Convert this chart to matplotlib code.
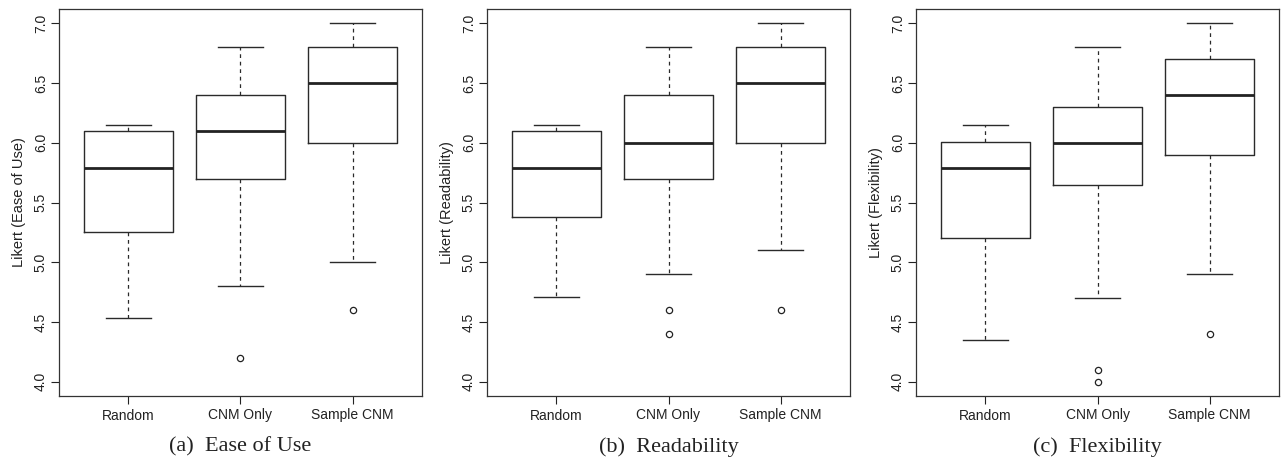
import matplotlib.pyplot as plt
import numpy as np

groups = ['Random', 'CNM Only', 'Sample CNM']
titles = ['(a)  Ease of Use', '(b)  Readability', '(c)  Flexibility']
ylabels = ['Likert (Ease of Use)', 'Likert (Readability)', 'Likert (Flexibility)']

# [whislo, q1, med, q3, whishi] per group
ease = [[4.53, 5.25, 5.79, 6.10, 6.15],
        [4.80, 5.70, 6.10, 6.40, 6.80],
        [5.00, 6.00, 6.50, 6.80, 7.00]]
ease_out = [[], [4.2], [4.6]]

read = [[4.71, 5.38, 5.79, 6.10, 6.15],
        [4.90, 5.70, 6.00, 6.40, 6.80],
        [5.10, 6.00, 6.50, 6.80, 7.00]]
read_out = [[], [4.6, 4.4], [4.6]]

flex = [[4.35, 5.20, 5.79, 6.01, 6.15],
        [4.70, 5.65, 6.00, 6.30, 6.80],
        [4.90, 5.90, 6.40, 6.70, 7.00]]
flex_out = [[], [4.1, 4.0], [4.4]]

yticks = [4.0, 4.5, 5.0, 5.5, 6.0, 6.5, 7.0]

panels = [(ease, ease_out), (read, read_out), (flex, flex_out)]
lefts = [59, 487, 916]

fig = plt.figure(figsize=(12.83, 4.59), dpi=100)
W, H = 1283, 459
plt.rcParams['font.family'] = ['Liberation Sans', 'DejaVu Sans']

for i, (vals, outs) in enumerate(panels):
    ax = fig.add_axes([lefts[i] / W, 1 - 396 / H, 363 / W, 387 / H])
    stats = []
    for g, v, o in zip(groups, vals, outs):
        stats.append(dict(label=g, whislo=v[0], q1=v[1], med=v[2], q3=v[3],
                          whishi=v[4], fliers=o))
    ax.bxp(stats, positions=[1, 2, 3], widths=0.8, showfliers=True,
           boxprops=dict(color='#2a2a2a', linewidth=1.0),
           medianprops=dict(color='#222222', linewidth=2.0, solid_capstyle='butt'),
           whiskerprops=dict(color='#2a2a2a', linewidth=0.9, linestyle=(0, (3, 3))),
           capprops=dict(color='#2a2a2a', linewidth=1.0),
           capwidths=0.4,
           flierprops=dict(marker='o', markersize=4.5, markerfacecolor='none',
                           markeredgecolor='#222222', markeredgewidth=0.9))
    ax.set_xlim(0.38, 3.62)
    ax.set_ylim(3.88, 7.12)
    ax.set_yticks(yticks)
    ax.set_yticklabels(['%.1f' % t for t in yticks], rotation=90, va='center')
    ax.set_xticks([1, 2, 3])
    ax.set_xticklabels(groups)
    ax.tick_params(axis='both', direction='out', length=6, width=0.8,
                   labelsize=10, colors='#222222')
    ax.tick_params(axis='x', pad=3)
    ax.tick_params(axis='y', pad=2)
    for s in ax.spines.values():
        s.set_linewidth(0.9)
        s.set_color('#333333')
    ax.set_ylabel(ylabels[i], fontsize=10.5, color='#222222', labelpad=6)
    ax.text(0.5, -0.132, titles[i], transform=ax.transAxes, ha='center', va='center',
            fontsize=16, family=['Liberation Serif'], fontstyle='normal',
            color='#222222')

fig.savefig('out.png', dpi=100)
